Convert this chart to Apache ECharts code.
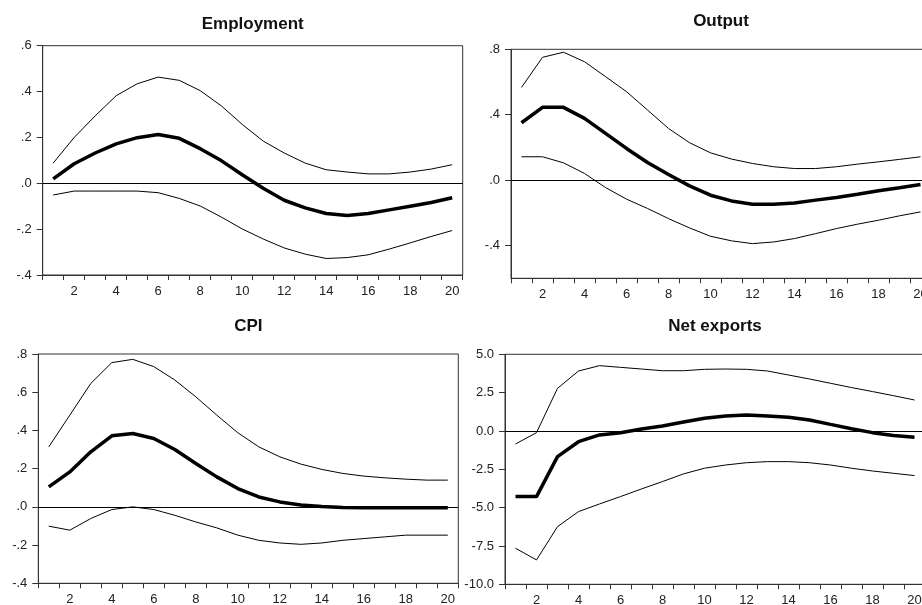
<!DOCTYPE html>
<html>
<head>
<meta charset="utf-8">
<script src="https://cdn.jsdelivr.net/npm/echarts@6/dist/echarts.min.js"></script>
<style>
html,body{margin:0;padding:0;background:#fff;}
#chart{width:922px;height:605px;}
</style>
</head>
<body>
<div id="chart"></div>
<script>
// ---- data ----
var categories = ['1','2','3','4','5','6','7','8','9','10','11','12','13','14','15','16','17','18','19','20'];
var panelTitles = ['Employment', 'Output', 'CPI', 'Net exports'];

var empUpper = [0.088,0.200,0.294,0.382,0.434,0.463,0.449,0.404,0.338,0.257,0.184,0.132,0.088,0.059,0.049,0.041,0.041,0.049,0.062,0.081];
var empMid   = [0.019,0.085,0.132,0.172,0.199,0.213,0.196,0.151,0.099,0.037,-0.022,-0.074,-0.107,-0.132,-0.140,-0.132,-0.116,-0.100,-0.084,-0.063];
var empLower = [-0.051,-0.034,-0.034,-0.034,-0.034,-0.041,-0.066,-0.099,-0.147,-0.199,-0.243,-0.282,-0.309,-0.328,-0.324,-0.312,-0.287,-0.260,-0.232,-0.206];

var outUpper = [0.567,0.751,0.782,0.724,0.633,0.541,0.429,0.316,0.229,0.167,0.129,0.102,0.082,0.071,0.071,0.082,0.098,0.112,0.127,0.143];
var outMid   = [0.351,0.445,0.445,0.378,0.286,0.194,0.108,0.035,-0.035,-0.092,-0.127,-0.147,-0.147,-0.139,-0.122,-0.106,-0.086,-0.065,-0.047,-0.027];
var outLower = [0.143,0.143,0.106,0.041,-0.045,-0.116,-0.173,-0.235,-0.292,-0.343,-0.371,-0.388,-0.378,-0.357,-0.327,-0.296,-0.269,-0.245,-0.218,-0.194];

var cpiUpper = [0.314,0.480,0.646,0.755,0.772,0.734,0.664,0.576,0.480,0.388,0.314,0.262,0.224,0.196,0.175,0.161,0.152,0.145,0.140,0.140];
var cpiMid   = [0.105,0.183,0.288,0.372,0.384,0.358,0.300,0.227,0.157,0.096,0.052,0.026,0.010,0.002,-0.003,-0.004,-0.004,-0.004,-0.004,-0.004];
var cpiLower = [-0.101,-0.122,-0.061,-0.014,0.000,-0.014,-0.044,-0.079,-0.110,-0.148,-0.175,-0.189,-0.196,-0.189,-0.175,-0.166,-0.157,-0.148,-0.148,-0.148];

var nxUpper = [-0.85,-0.11,2.78,3.91,4.26,4.15,4.04,3.93,3.93,4.02,4.04,4.02,3.91,3.65,3.39,3.11,2.83,2.57,2.30,2.02];
var nxMid   = [-4.28,-4.28,-1.67,-0.70,-0.26,-0.11,0.13,0.33,0.59,0.83,0.98,1.04,0.98,0.89,0.72,0.43,0.15,-0.11,-0.30,-0.41];
var nxLower = [-7.65,-8.41,-6.24,-5.26,-4.76,-4.28,-3.78,-3.30,-2.80,-2.43,-2.22,-2.07,-2.00,-2.00,-2.07,-2.22,-2.43,-2.61,-2.76,-2.91];

// y-axis tick label values
var empTicks = [-0.4,-0.2,0,0.2,0.4,0.6];
var outTicks = [-0.4,0,0.4,0.8];
var cpiTicks = [-0.4,-0.2,0,0.2,0.4,0.6,0.8];
var nxTicks  = [-10,-7.5,-5,-2.5,0,2.5,5];

// ---- chart ----
var FONT = '"Liberation Sans", Arial, sans-serif';
var AX = '#333';

function dotFmt(v){
  var s = Math.abs(v).toFixed(1).replace(/^0/, '');
  return (v < -1e-9 ? '-' : '') + s;
}
function oneFmt(v){ return v.toFixed(1); }

var grids = [
  {left: 42.7, right: 459.3, top: 45.7, bottom: 330},
  {left: 511, right: -9, top: 49.3, bottom: 326.7},
  {left: 38.3, right: 463.7, top: 354, bottom: 21.7},
  {left: 505, right: -3, top: 354.3, bottom: 20.7}
];
var yDefs = [
  {min: -0.4, max: 0.6, ticks: empTicks, fmt: dotFmt},
  {min: -0.6, max: 0.8, ticks: outTicks, fmt: dotFmt},
  {min: -0.4, max: 0.8, ticks: cpiTicks, fmt: dotFmt},
  {min: -10, max: 5, ticks: nxTicks, fmt: oneFmt}
];
var seriesData = [
  [empUpper, empMid, empLower],
  [outUpper, outMid, outLower],
  [cpiUpper, cpiMid, cpiLower],
  [nxUpper, nxMid, nxLower]
];

var option = {
  animation: false,
  backgroundColor: '#fff',
  grid: grids.map(function(g){
    return {left: g.left, right: g.right, top: g.top, bottom: g.bottom,
      show: true, borderColor: AX, borderWidth: 1, backgroundColor: 'transparent',
      containLabel: false, outerBoundsMode: 'none'};
  }),
  xAxis: grids.map(function(g, i){
    return {
      type: 'category', gridIndex: i, data: categories, boundaryGap: true,
      axisLine: {show: true, onZero: false, lineStyle: {color: AX, width: 1}},
      axisTick: {show: true, interval: 0, length: 5, inside: false, lineStyle: {color: AX}},
      axisLabel: {interval: function(idx){ return idx % 2 === 1; }, color: '#222', fontFamily: FONT, fontSize: 13, margin: 10},
      splitLine: {show: false}
    };
  }),
  yAxis: yDefs.map(function(d, i){
    return {
      type: 'value', gridIndex: i, min: d.min, max: d.max,
      axisLine: {show: true, onZero: false, lineStyle: {color: AX, width: 1}},
      axisTick: {show: true, length: 6, inside: false, customValues: d.ticks, lineStyle: {color: AX}},
      axisLabel: {customValues: d.ticks, formatter: d.fmt, color: '#222', fontFamily: FONT, fontSize: 13, margin: 11},
      splitLine: {show: false}
    };
  }),
  graphic: [],
  series: []
};

var titlePos = [[252.7, 24], [721, 21.5], [248.3, 326], [715, 326.5]];
panelTitles.forEach(function(t, i){
  option.graphic.push({type: 'text', x: titlePos[i][0], y: titlePos[i][1], silent: true,
    style: {text: t, fill: '#111', font: 'bold 17px ' + FONT, textAlign: 'center', textVerticalAlign: 'middle'}});
});

seriesData.forEach(function(trip, i){
  trip.forEach(function(arr, k){
    var s = {
      type: 'line', xAxisIndex: i, yAxisIndex: i, data: arr, symbol: 'none', smooth: false,
      lineStyle: {color: '#000', width: k === 1 ? 3.5 : 1}, silent: true, z: k === 1 ? 3 : 2
    };
    if (k === 1) {
      s.markLine = {silent: true, symbol: 'none', label: {show: false},
        lineStyle: {color: '#000', width: 1, type: 'solid'}, data: [{yAxis: 0}], animation: false};
    }
    option.series.push(s);
  });
});

var chart = echarts.init(document.getElementById('chart'), null, {renderer: 'canvas'});
chart.setOption(option);
</script>
</body>
</html>
